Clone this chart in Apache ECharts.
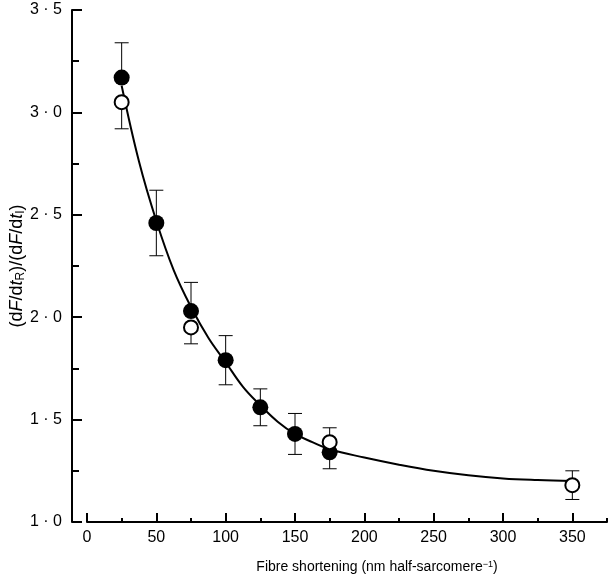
<!DOCTYPE html>
<html>
<head>
<meta charset="utf-8">
<script src="https://cdn.jsdelivr.net/npm/echarts@6/dist/echarts.min.js"></script>
<style>
html,body{margin:0;padding:0;background:#fff;}
#chart{width:613px;height:584px;}
</style>
</head>
<body>
<div id="chart"></div>
<script>
// ---- data ----
const xMajorTicks = [0, 50, 100, 150, 200, 250, 300, 350];
const xMinorTicks = [25, 75, 125, 175, 225, 275, 325, 375];

const filledX = [25, 50, 75, 100, 125, 150, 175];
const filledY = [3.17, 2.46, 2.03, 1.79, 1.56, 1.43, 1.34];
const filledUpper = [3.34, 2.62, 2.17, 1.91, 1.65, 1.53, null];
const filledLower = [null, 2.30, null, 1.67, 1.47, 1.33, 1.26];

const openX = [25, 75, 175, 350];
const openY = [3.05, 1.95, 1.39, 1.18];
const openUpper = [null, null, 1.46, 1.25];
const openLower = [2.92, 1.87, null, 1.11];

const curveX = [25, 37.5, 50, 62.5, 75, 87.5, 100, 112.5, 125, 137.5, 150, 162.5, 175, 200, 225, 250, 275, 300, 325, 350];
const curveY = [3.13, 2.76, 2.47, 2.23, 2.05, 1.90, 1.78, 1.66, 1.57, 1.49, 1.43, 1.39, 1.355, 1.315, 1.28, 1.25, 1.228, 1.213, 1.205, 1.20];

// ---- build series data ----
const zip = (a, b) => a.map((v, i) => [v, b[i]]);
function halfBars(xs, ys, ends) {
  const out = [];
  xs.forEach((x, i) => { if (ends[i] != null) out.push([x, ys[i], ends[i]]); });
  return out;
}
const errData = [].concat(
  halfBars(filledX, filledY, filledUpper),
  halfBars(filledX, filledY, filledLower),
  halfBars(openX, openY, openUpper),
  halfBars(openX, openY, openLower)
);

function renderErr(params, api) {
  const x = api.value(0);
  const p1 = api.coord([x, api.value(1)]);
  const p2 = api.coord([x, api.value(2)]);
  const hw = 7;
  const st = { stroke: '#000', lineWidth: 1 };
  return {
    type: 'group',
    children: [
      { type: 'line', shape: { x1: p1[0], y1: p1[1], x2: p2[0], y2: p2[1] }, style: st },
      { type: 'line', shape: { x1: p2[0] - hw, y1: p2[1], x2: p2[0] + hw, y2: p2[1] }, style: st }
    ]
  };
}

const FONT = '"Liberation Sans", Arial, Helvetica, sans-serif';
const chart = echarts.init(document.getElementById('chart'), null, { renderer: 'canvas' });

chart.setOption({
  animation: false,
  backgroundColor: '#fff',
  grid: [
    { left: 87, right: 6, top: 10, bottom: 62, containLabel: false, outerBoundsMode: 'none' },
    { left: 72, right: 6, top: 10, bottom: 62, containLabel: false, outerBoundsMode: 'none' }
  ],
  xAxis: [
    {
      type: 'value', gridIndex: 0, min: 0, max: 375, interval: 25, position: 'bottom',
      axisLine: { show: true, lineStyle: { color: '#000', width: 2 } },
      axisTick: { show: true, inside: true, length: 9, customValues: xMajorTicks, lineStyle: { color: '#000', width: 2 } },
      axisLabel: { customValues: xMajorTicks, margin: 8, color: '#000', fontSize: 16, fontFamily: FONT },
      splitLine: { show: false },
      name: 'Fibre shortening (nm half-sarcomere{sup|−1})',
      nameLocation: 'middle', nameGap: 38, nameMoveOverlap: false,
      nameTextStyle: {
        color: '#000', fontSize: 14, fontFamily: FONT, padding: [0, 0, 0, 60],
        rich: { sup: { fontSize: 9, verticalAlign: 'top', color: '#000', fontFamily: FONT } }
      }
    },
    {
      type: 'value', gridIndex: 0, min: 0, max: 375, interval: 25, position: 'bottom',
      axisLine: { show: false },
      axisTick: { show: true, inside: true, length: 4, customValues: xMinorTicks, lineStyle: { color: '#000', width: 2 } },
      axisLabel: { show: false },
      splitLine: { show: false }
    },
    {
      type: 'value', gridIndex: 1, min: 0, max: 375, show: false
    }
  ],
  yAxis: [
    {
      type: 'value', gridIndex: 0, min: 1, max: 3.5, interval: 0.5, show: false
    },
    {
      type: 'value', gridIndex: 1, min: 1, max: 3.5, interval: 0.5, position: 'left',
      axisLine: { show: true, lineStyle: { color: '#000', width: 2 } },
      axisTick: { show: true, inside: true, length: 10, lineStyle: { color: '#000', width: 2 } },
      minorTick: { show: true, splitNumber: 2, length: 7, lineStyle: { color: '#000', width: 2 } },
      axisLabel: {
        margin: 10, color: '#000', fontSize: 16, fontFamily: FONT,
        formatter: v => v.toFixed(1).replace('.', ' · ')
      },
      splitLine: { show: false },
      minorSplitLine: { show: false },
      name: '(d{i|F}/d{i|t}{sub|R})/(d{i|F}/d{i|t}{sub|I})',
      nameLocation: 'middle', nameGap: 45, nameRotate: 90, nameMoveOverlap: false,
      nameTextStyle: {
        color: '#000', fontSize: 18, fontFamily: FONT, lineHeight: 20,
        rich: {
          i: { fontStyle: 'italic', fontSize: 18, color: '#000', fontFamily: FONT },
          sub: { fontSize: 12, verticalAlign: 'bottom', color: '#000', fontFamily: FONT }
        }
      }
    }
  ],
  series: [
    {
      type: 'line', xAxisIndex: 0, yAxisIndex: 0, data: zip(curveX, curveY), smooth: 0.4, showSymbol: false, symbol: 'none',
      lineStyle: { color: '#000', width: 2 }, z: 2, silent: true
    },
    {
      type: 'custom', xAxisIndex: 0, yAxisIndex: 0, renderItem: renderErr, data: errData,
      encode: { x: 0, y: [1, 2] }, z: 3, silent: true
    },
    {
      type: 'scatter', xAxisIndex: 0, yAxisIndex: 0, data: zip(filledX, filledY), symbol: 'circle', symbolSize: 16,
      itemStyle: { color: '#000', opacity: 1 }, z: 4, silent: true
    },
    {
      type: 'scatter', xAxisIndex: 0, yAxisIndex: 0, data: zip(openX, openY), symbol: 'circle', symbolSize: 14,
      itemStyle: { color: '#fff', borderColor: '#000', borderWidth: 2, opacity: 1 }, z: 5, silent: true
    }
  ]
});
</script>
</body>
</html>
